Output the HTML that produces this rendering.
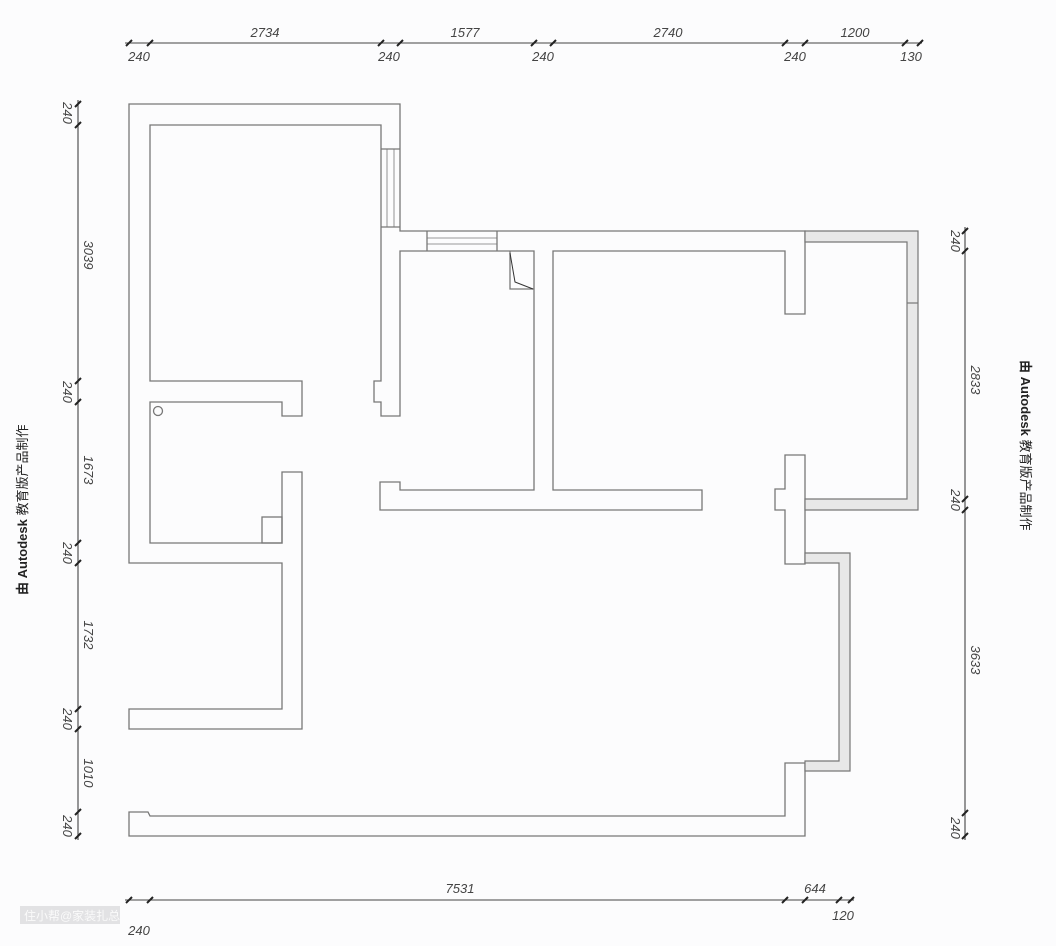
<!DOCTYPE html>
<html><head><meta charset="utf-8"><style>
html,body{margin:0;padding:0;background:#fcfcfd;}
svg{display:block;}
text{font-family:"Liberation Sans","Noto Sans CJK SC",sans-serif;font-size:13px;}
.d{fill:#444;}
</style></head><body>
<svg width="1056" height="946" viewBox="0 0 1056 946" xmlns="http://www.w3.org/2000/svg">
<rect width="1056" height="946" fill="#fcfcfd"/>
<g fill="none" stroke="#777" stroke-width="1.3" stroke-linejoin="miter">
<polygon points="129,563 129,104 400,104 400,231 805,231 805,314 785,314 785,251 553,251 553,490 702,490 702,510 380,510 380,482 400,482 400,490 534,490 534,251 400,251 400,416 381,416 381,402 374,402 374,381 381,381 381,125 150,125 150,381 302,381 302,416 282,416 282,402 150,402 150,543 282,543 282,472 302,472 302,729 129,729 129,709 282,709 282,563"/>
<rect x="262" y="517" width="20" height="26"/>
<circle cx="158" cy="411" r="4.5"/>
<line x1="381" y1="149" x2="400" y2="149"/><line x1="381" y1="227" x2="400" y2="227"/>
<line x1="387" y1="149" x2="387" y2="227" stroke-width="0.8"/><line x1="394" y1="149" x2="394" y2="227" stroke-width="0.8"/>
<line x1="427" y1="231" x2="427" y2="251"/><line x1="497" y1="231" x2="497" y2="251"/>
<line x1="427" y1="238" x2="497" y2="238" stroke-width="0.8"/><line x1="427" y1="244" x2="497" y2="244" stroke-width="0.8"/>
<polyline points="510,251 510,289 534,289"/>
<polyline points="510,253 515,282 533,289" stroke="#333" stroke-width="1"/>
<polygon points="785,455 805,455 805,564 785,564 785,510 775,510 775,489 785,489"/>
<polygon points="129,812 148,812 150,816 785,816 785,763 805,763 805,836 129,836"/>
</g>
<g fill="#e8e8e8" stroke="#777" stroke-width="1.2" fill-rule="evenodd">
<path d="M805,231 H918 V510 H805 V499 H907 V242 H805 Z"/>
<path d="M805,553 H850 V771 H805 V761 H839 V563 H805 Z"/>
</g>
<line x1="907" y1="303" x2="918" y2="303" stroke="#777" stroke-width="1.2"/>
<g stroke="#444" stroke-width="1.1">
<line x1="125" y1="43" x2="922" y2="43"/>
<line x1="78" y1="100" x2="78" y2="840"/>
<line x1="965" y1="227" x2="965" y2="840"/>
<line x1="125" y1="900" x2="854" y2="900"/>
</g>
<g stroke="#222" stroke-width="2">
<path d="M126,46 l6,-6 M147,46 l6,-6 M378,46 l6,-6 M397,46 l6,-6 M531,46 l6,-6 M550,46 l6,-6 M782,46 l6,-6 M802,46 l6,-6 M902,46 l6,-6 M917,46 l6,-6"/>
<path d="M75,107 l6,-6 M75,128 l6,-6 M75,384 l6,-6 M75,405 l6,-6 M75,546 l6,-6 M75,566 l6,-6 M75,712 l6,-6 M75,732 l6,-6 M75,815 l6,-6 M75,839 l6,-6"/>
<path d="M962,234 l6,-6 M962,254 l6,-6 M962,502 l6,-6 M962,513 l6,-6 M962,816 l6,-6 M962,839 l6,-6"/>
<path d="M126,903 l6,-6 M147,903 l6,-6 M782,903 l6,-6 M802,903 l6,-6 M836,903 l6,-6 M848,903 l6,-6"/>
</g>
<g text-anchor="middle" font-style="italic" class="d">
<text class="d" x="265" y="37">2734</text><text class="d" x="465" y="37">1577</text><text class="d" x="668" y="37">2740</text><text class="d" x="855" y="37">1200</text>
<text class="d" x="139" y="61">240</text><text class="d" x="389" y="61">240</text><text class="d" x="543" y="61">240</text><text class="d" x="795" y="61">240</text><text class="d" x="911" y="61">130</text>
<text class="d" x="460" y="893">7531</text><text class="d" x="815" y="893">644</text>
<text class="d" x="139" y="935">240</text><text class="d" x="843" y="920">120</text>
<text class="d" transform="translate(63,113) rotate(90)">240</text>
<text class="d" transform="translate(84,255) rotate(90)">3039</text>
<text class="d" transform="translate(63,392) rotate(90)">240</text>
<text class="d" transform="translate(84,470) rotate(90)">1673</text>
<text class="d" transform="translate(63,553) rotate(90)">240</text>
<text class="d" transform="translate(84,635) rotate(90)">1732</text>
<text class="d" transform="translate(63,719) rotate(90)">240</text>
<text class="d" transform="translate(84,773) rotate(90)">1010</text>
<text class="d" transform="translate(63,826) rotate(90)">240</text>
<text class="d" transform="translate(951,241) rotate(90)">240</text>
<text class="d" transform="translate(971,380) rotate(90)">2833</text>
<text class="d" transform="translate(951,500) rotate(90)">240</text>
<text class="d" transform="translate(971,660) rotate(90)">3633</text>
<text class="d" transform="translate(951,828) rotate(90)">240</text>
</g>
<text transform="translate(27,595) rotate(-90)" style="fill:#222"><tspan font-weight="bold">由 Autodesk</tspan> 教育版产品制作</text>
<text transform="translate(1021,360) rotate(90)" style="fill:#222"><tspan font-weight="bold">由 Autodesk</tspan> 教育版产品制作</text>
<rect x="20" y="906" width="100" height="18" fill="#e2e2e4"/>
<text x="24" y="920" style="fill:#fafafa;font-size:12px">住小帮@家装扎总</text>
</svg>
</body></html>
